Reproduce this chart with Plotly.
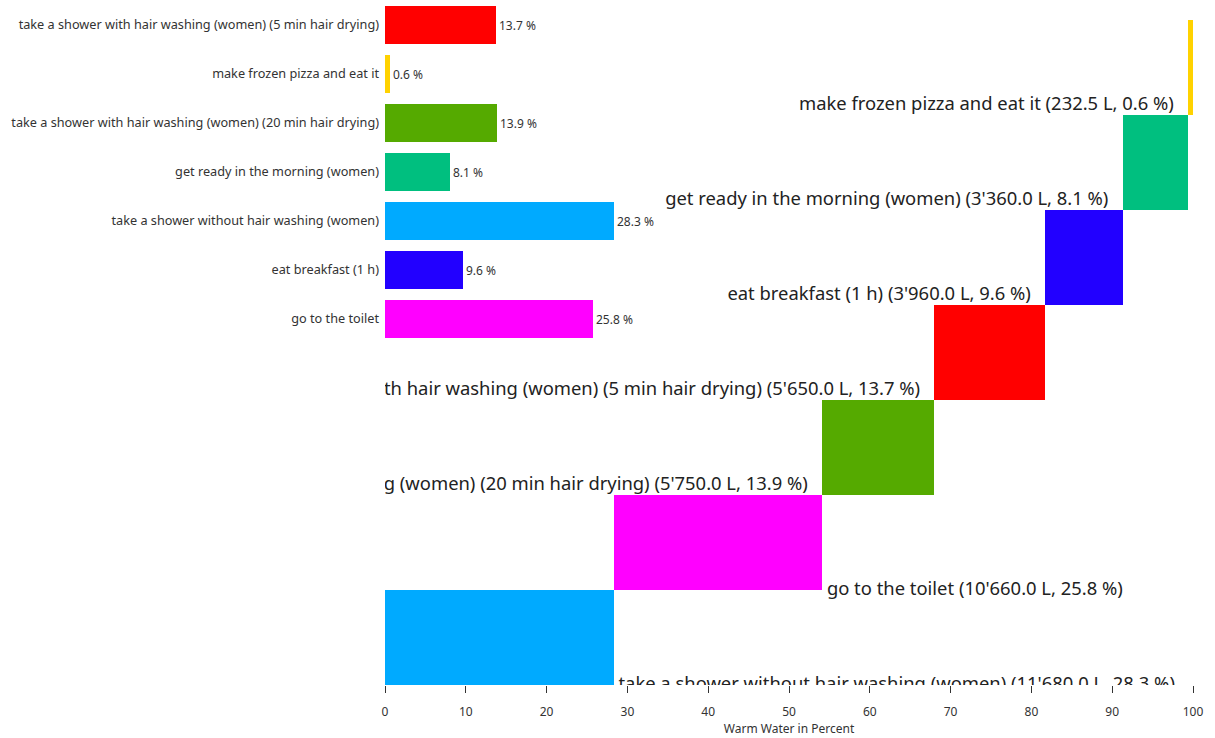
import plotly.graph_objects as go

# ---- data ----
bar_categories = [
    "take a shower with hair washing (women) (5 min hair drying)",
    "make frozen pizza and eat it",
    "take a shower with hair washing (women) (20 min hair drying)",
    "get ready in the morning (women)",
    "take a shower without hair washing (women)",
    "eat breakfast (1 h)",
    "go to the toilet",
]
bar_percent = [13.7, 0.6, 13.9, 8.1, 28.3, 9.6, 25.8]
bar_liters = [5650.0, 232.5, 5750.0, 3360.0, 11680.0, 3960.0, 10660.0]
bar_colors = ["#FF0000", "#FFD200", "#55AA00", "#00BF7F", "#00AAFF", "#2200FF", "#FF00FF"]
x_ticks = [0, 10, 20, 30, 40, 50, 60, 70, 80, 90, 100]

FONT = "Noto Sans, Segoe UI, sans-serif"


def fmt_liters(v):
    return f"{v:,.1f}".replace(",", "'")


fig = go.Figure()

# ---- top horizontal bar chart (y2) ----
fig.add_trace(go.Bar(
    orientation="h",
    y=bar_categories,
    x=bar_percent,
    marker=dict(color=bar_colors, line=dict(width=0)),
    width=0.776,
    text=[f"{p} %" for p in bar_percent],
    textposition="outside",
    textfont=dict(size=12, color="#333333", family=FONT),
    yaxis="y2",
    hoverinfo="skip",
))

# ---- cumulative rectangles (y) ----
order = sorted(range(len(bar_percent)), key=lambda i: -bar_percent[i])
cum = 0.0
starts, widths, ypos, cols = [], [], [], []
lbl_x_r, lbl_y_r, lbl_t_r = [], [], []
lbl_x_l, lbl_y_l, lbl_t_l = [], [], []
for level, i in enumerate(order):
    starts.append(cum)
    widths.append(bar_percent[i])
    ypos.append(level + 0.5)
    cols.append(bar_colors[i])
    label = f"{bar_categories[i]} ({fmt_liters(bar_liters[i])} L, {bar_percent[i]} %)"
    end = cum + bar_percent[i]
    if cum < 50:
        lbl_x_r.append(end)
        lbl_y_r.append(level)
        lbl_t_r.append("\u00a0" + label)
    else:
        lbl_x_l.append(cum)
        lbl_y_l.append(level)
        lbl_t_l.append(label + "\u00a0\u00a0\u00a0")
    cum = end

fig.add_trace(go.Bar(
    orientation="h",
    base=starts,
    x=widths,
    y=ypos,
    width=1.0,
    marker=dict(color=cols, line=dict(width=0)),
    yaxis="y",
    hoverinfo="skip",
))

fig.add_trace(go.Scatter(
    x=lbl_x_r, y=lbl_y_r, text=lbl_t_r, mode="text",
    textposition="middle right",
    textfont=dict(size=18.4, color="#222222", family=FONT),
    yaxis="y", cliponaxis=True, hoverinfo="skip",
))
fig.add_trace(go.Scatter(
    x=lbl_x_l, y=lbl_y_l, text=lbl_t_l, mode="text",
    textposition="top left",
    textfont=dict(size=18.4, color="#222222", family=FONT),
    yaxis="y", cliponaxis=True, hoverinfo="skip",
))

fig.update_layout(
    width=1215, height=738,
    margin=dict(l=385, r=22, t=5, b=53, autoexpand=False),
    paper_bgcolor="white", plot_bgcolor="white",
    showlegend=False,
    font=dict(family=FONT, color="#333333"),
    bargap=0,
    xaxis=dict(
        range=[0, 100], tickvals=x_ticks, ticks="outside", ticklen=7,
        tickcolor="#333333", showline=False, showgrid=False, zeroline=False,
        tickfont=dict(size=12, color="#333333"), ticklabelstandoff=9,
        automargin=False,
        title=dict(text="Warm Water in Percent", font=dict(size=12, color="#333333"), standoff=4),
    ),
    yaxis=dict(
        range=[0, 7.158], showticklabels=False, showgrid=False, zeroline=False,
        showline=False, ticks="", automargin=False,
    ),
    yaxis2=dict(
        overlaying="y", side="left", type="category",
        categoryorder="array", categoryarray=bar_categories,
        range=[13.47, -0.408], showgrid=False, zeroline=False, showline=False,
        ticks="", ticklabelstandoff=5, tickfont=dict(size=12.7, color="#333333"),
        automargin=False,
    ),
)

fig.write_html("out.html", config={"displayModeBar": False},
               post_script="document.body.style.margin='0';")
